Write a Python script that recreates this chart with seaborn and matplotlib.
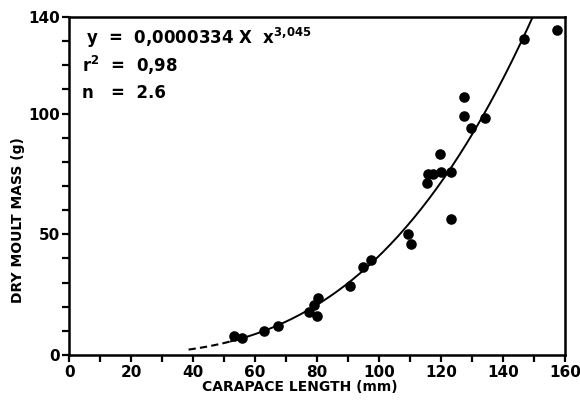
"""Dry moult mass vs carapace length, with the fitted power curve."""
import numpy as np
import pandas as pd
import matplotlib
matplotlib.use('Agg')
import matplotlib.pyplot as plt
import seaborn as sns

# data
carapace_mm = [53.2, 55.7, 62.8, 67.4, 77.3, 79.0, 80.2, 80.0, 90.6, 94.7,
               97.4, 109.2, 110.3, 115.6, 115.7, 117.3, 120.0, 123.3, 119.5,
               123.2, 127.4, 127.5, 129.6, 134.3, 146.9, 157.4]
moult_mass_g = [7.9, 7.0, 9.9, 12.0, 17.9, 20.7, 23.5, 16.2, 28.6, 36.3,
                39.4, 50.0, 46.1, 71.4, 75.0, 74.9, 75.7, 75.8, 83.3,
                56.2, 98.9, 106.9, 94.1, 98.1, 130.8, 134.7]

# fitted relation printed on the chart: y = a * x^b
fit_a = 0.0000334
fit_b = 3.045
fit_solid_range = (52, 150)
fit_dashed_range = (38.5, 52)

x_ticks_major = [0, 20, 40, 60, 80, 100, 120, 140, 160]
y_ticks_major = [0, 50, 100, 140]

df = pd.DataFrame({'length': carapace_mm, 'mass': moult_mass_g})

sns.set_style('ticks')
plt.rcParams['font.family'] = ['DejaVu Sans']
plt.rcParams['font.weight'] = 'bold'
plt.rcParams['text.color'] = 'black'
plt.rcParams['axes.labelcolor'] = 'black'
plt.rcParams['xtick.color'] = 'black'
plt.rcParams['ytick.color'] = 'black'

fig = plt.figure(figsize=(5.8, 4.04), dpi=100)
ax = fig.add_axes([0.1195, 0.1213, 0.9741 - 0.1195, 0.9577 - 0.1213])

xs = np.linspace(*fit_solid_range, 200)
sns.lineplot(x=xs, y=fit_a * xs ** fit_b, ax=ax, color='black', lw=1.4)
xd = np.linspace(*fit_dashed_range, 50)
sns.lineplot(x=xd, y=fit_a * xd ** fit_b, ax=ax, color='black', lw=1.5,
             linestyle=(0, (3.5, 2)))

sns.scatterplot(data=df, x='length', y='mass', ax=ax, color='black',
                s=58, edgecolor='black', linewidth=0, zorder=3)

ax.set_xlim(0, 160)
ax.set_ylim(0, 140)
ax.set_xticks(x_ticks_major)
ax.set_xticks(np.arange(0, 161, 10), minor=True)
ax.set_yticks(y_ticks_major)
ax.set_yticks(np.arange(0, 141, 10), minor=True)
ax.tick_params(axis='both', which='both', direction='out', width=1.6,
               color='black', labelcolor='black', labelsize=11, pad=2,
               length=5)
for lab in ax.get_xticklabels() + ax.get_yticklabels():
    lab.set_fontweight('bold')

for side in ['left', 'right', 'top', 'bottom']:
    ax.spines[side].set_visible(True)
    ax.spines[side].set_linewidth(1.8)
    ax.spines[side].set_color('black')

ax.set_xlabel('CARAPACE LENGTH (mm)', fontsize=10, fontweight='bold',
              color='black')
ax.set_ylabel('DRY MOULT MASS (g)', fontsize=10, fontweight='bold',
              color='black')
ax.xaxis.set_label_coords(0.465, -0.075)
ax.yaxis.set_label_coords(-0.09, 0.40)

ax.text(0.033, 0.938, r'y  =  0,0000334 X  x$^{\mathbf{3{,}045}}$',
        transform=ax.transAxes, fontsize=12, fontweight='bold', va='center')
ax.text(0.025, 0.858, r'r$^{\mathbf{2}}$  =  0,98', transform=ax.transAxes,
        fontsize=12, fontweight='bold', va='center')
ax.text(0.025, 0.775, 'n   =  2.6', transform=ax.transAxes,
        fontsize=12, fontweight='bold', va='center')

fig.savefig('out.png', dpi=100, facecolor='white')
